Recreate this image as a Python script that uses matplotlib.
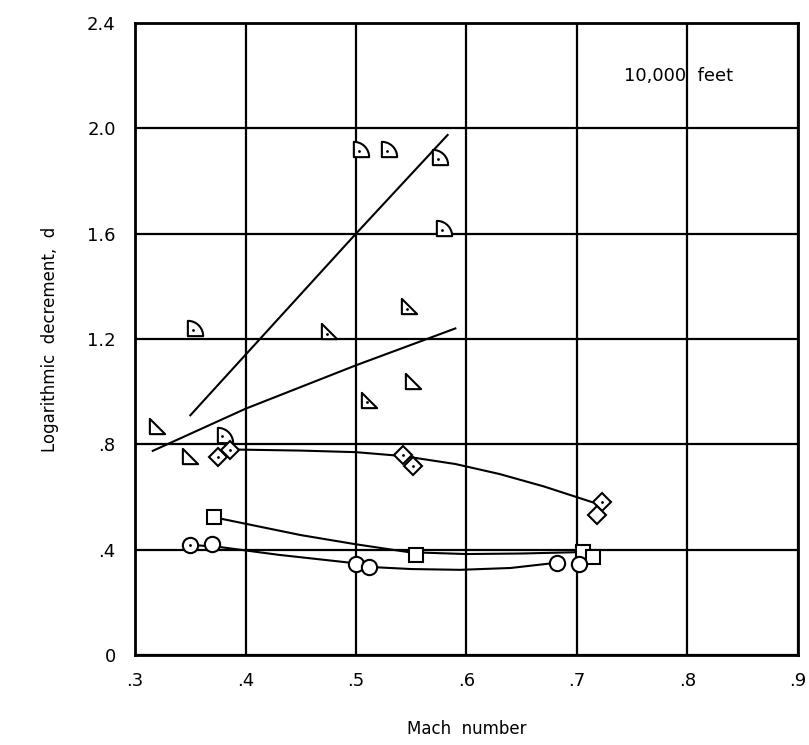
import numpy as np
import matplotlib
matplotlib.use("Agg")
import matplotlib.pyplot as plt
from matplotlib.path import Path

# data (Mach number, logarithmic decrement)
quarter_x = [0.354, 0.381, 0.505, 0.530, 0.576, 0.580]
quarter_y = [1.24, 0.835, 1.92, 1.92, 1.89, 1.62]

tri_x = [0.320, 0.350, 0.476, 0.512, 0.548, 0.552]
tri_y = [0.87, 0.756, 1.23, 0.97, 1.325, 1.04]
tri_dot = [False, False, True, True, True, False]

diamond_x = [0.375, 0.386, 0.543, 0.552, 0.723, 0.718]
diamond_y = [0.752, 0.780, 0.760, 0.718, 0.580, 0.530]
diamond_dot = [True, True, True, True, True, False]

square_x = [0.371, 0.554, 0.706, 0.715]
square_y = [0.524, 0.380, 0.390, 0.370]

circle_x = [0.350, 0.370, 0.500, 0.512, 0.682, 0.702]
circle_y = [0.418, 0.420, 0.345, 0.334, 0.350, 0.345]
circle_dot = [True, False, False, False, False, False]

# faired curves
steep_x = [0.350, 0.500, 0.583]
steep_y = [0.910, 1.600, 1.975]
shallow_x = [0.316, 0.400, 0.500, 0.590]
shallow_y = [0.775, 0.935, 1.100, 1.240]
diamond_cx = [0.390, 0.450, 0.500, 0.543, 0.590, 0.630, 0.670, 0.714]
diamond_cy = [0.780, 0.776, 0.770, 0.755, 0.725, 0.687, 0.640, 0.580]
square_cx = [0.378, 0.450, 0.500, 0.548, 0.600, 0.650, 0.700]
square_cy = [0.517, 0.455, 0.420, 0.390, 0.383, 0.385, 0.390]
circle_cx = [0.350, 0.376, 0.430, 0.495, 0.512, 0.550, 0.594, 0.640, 0.682]
circle_cy = [0.418, 0.410, 0.380, 0.350, 0.334, 0.326, 0.323, 0.330, 0.350]

x_ticks = [0.3, 0.4, 0.5, 0.6, 0.7, 0.8, 0.9]
x_labels = [".3", ".4", ".5", ".6", ".7", ".8", ".9"]
y_ticks = [0, 0.4, 0.8, 1.2, 1.6, 2.0, 2.4]
y_labels = ["0", ".4", ".8", "1.2", "1.6", "2.0", "2.4"]

# custom markers: quarter circle and right triangle
arc = np.linspace(np.pi / 2, 0, 20)
qv = [(-1, -1), (-1, 1)] + [(-1 + 2 * np.cos(a), -1 + 2 * np.sin(a)) for a in arc] + [(-1, -1)]
quarter = Path(qv, closed=True)
triangle = Path([(-1, -1), (-1, 1), (1, -1), (-1, -1)], closed=True)

fig = plt.figure(figsize=(8.09, 7.45), dpi=100)
ax = fig.add_axes([0.167, 0.121, 0.819, 0.848])

lk = dict(color="black", lw=1.5, zorder=3)
ax.plot(steep_x, steep_y, **lk)
ax.plot(shallow_x, shallow_y, **lk)
ax.plot(diamond_cx, diamond_cy, **lk)
ax.plot(square_cx, square_cy, **lk)
ax.plot(circle_cx, circle_cy, **lk)

mk = dict(ls="none", mfc="white", mec="black", mew=1.5, zorder=4)
ax.plot(quarter_x, quarter_y, marker=quarter, ms=11, **mk)
ax.plot(tri_x, tri_y, marker=triangle, ms=11, **mk)
ax.plot(diamond_x, diamond_y, marker="D", ms=9, **mk)
ax.plot(square_x, square_y, marker="s", ms=10, **mk)
ax.plot(circle_x, circle_y, marker="o", ms=11, **mk)

# the small dots inside some symbols
dk = dict(ls="none", marker=".", ms=2, color="black", zorder=5)
ax.plot([x - 0.002 for x in quarter_x], [y - 0.005 for y in quarter_y], **dk)
ax.plot([x - 0.002 for x, d in zip(tri_x, tri_dot) if d],
        [y - 0.01 for y, d in zip(tri_y, tri_dot) if d], **dk)
ax.plot([x for x, d in zip(diamond_x, diamond_dot) if d],
        [y for y, d in zip(diamond_y, diamond_dot) if d], **dk)
ax.plot([x for x, d in zip(circle_x, circle_dot) if d],
        [y for y, d in zip(circle_y, circle_dot) if d], **dk)

ax.set_xlim(0.3, 0.9)
ax.set_ylim(0, 2.4)
ax.set_xticks(x_ticks)
ax.set_xticklabels(x_labels)
ax.set_yticks(y_ticks)
ax.set_yticklabels(y_labels)
ax.tick_params(length=0, labelsize=13, pad=12)
ax.tick_params(axis="y", pad=14)
ax.grid(True, color="black", lw=1.6)
ax.set_axisbelow(True)
for s in ax.spines.values():
    s.set_linewidth(2)

ax.set_xlabel("Mach  number", fontsize=12, labelpad=22)
ax.set_ylabel("Logarithmic  decrement,  d", fontsize=12, labelpad=20)
ax.text(0.743, 2.2, "10,000  feet", fontsize=13, va="center")

fig.savefig("out.png", dpi=100)
